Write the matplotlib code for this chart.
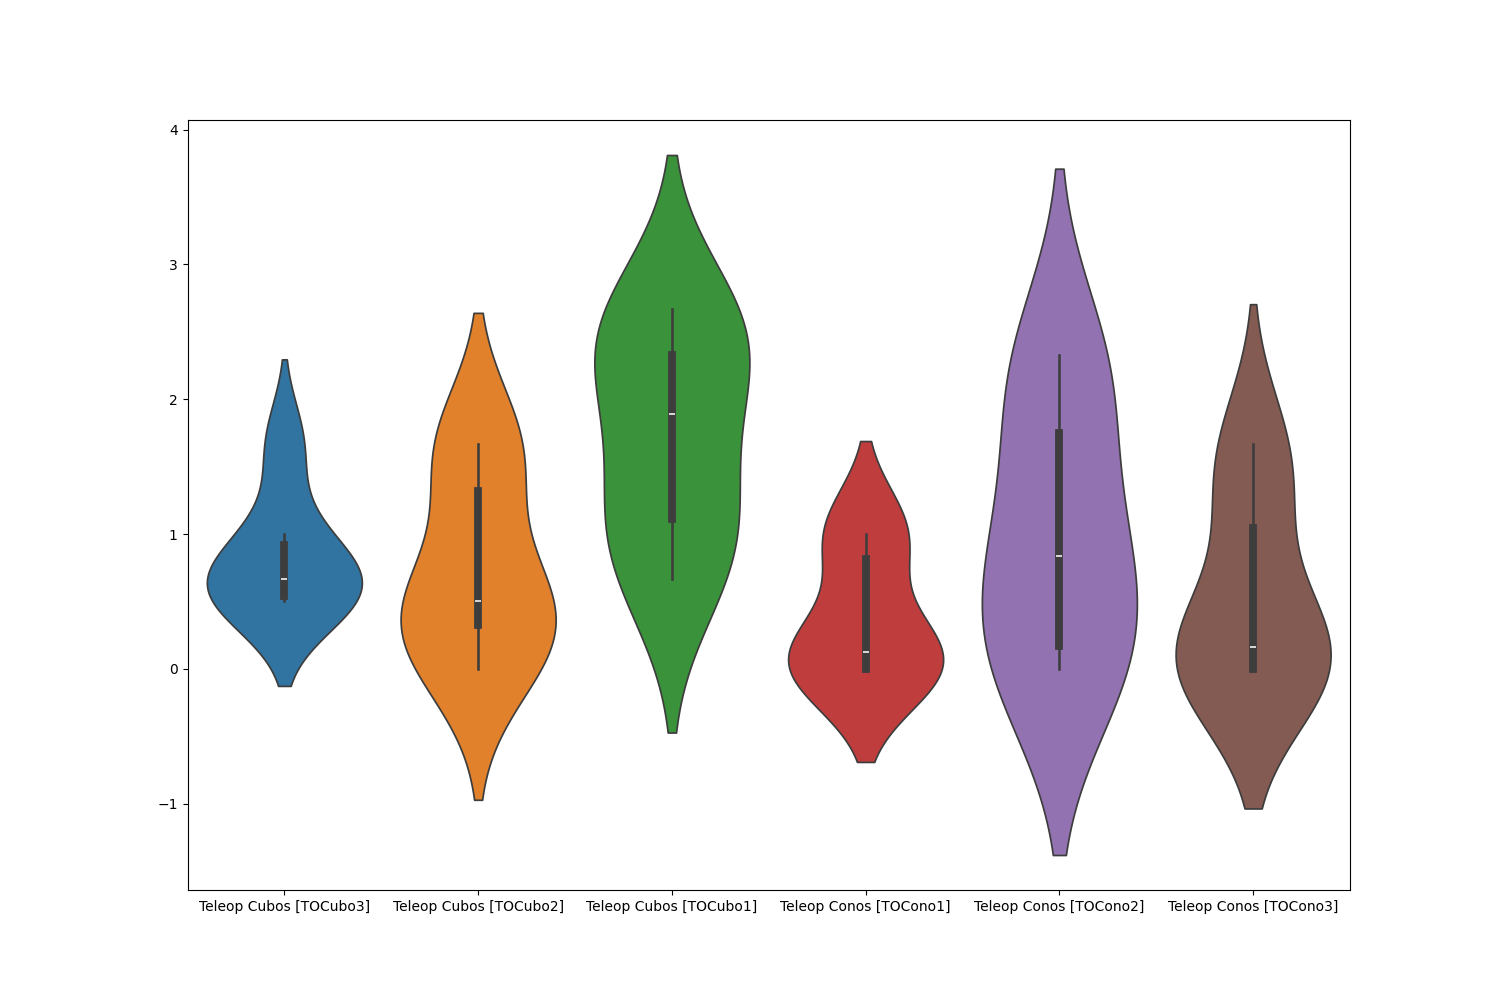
import numpy as np
import pandas as pd
import matplotlib
matplotlib.use("Agg")
import matplotlib.pyplot as plt
import seaborn as sns

# Columns shown on the x axis
labels = ["Teleop Cubos [TOCubo3]", "Teleop Cubos [TOCubo2]", "Teleop Cubos [TOCubo1]",
          "Teleop Conos [TOCono1]", "Teleop Conos [TOCono2]", "Teleop Conos [TOCono3]"]

# values per column (read from the box stats / violin extents)
tocubo3 = [0.5, 0.5, 0.67, 0.67, 1.0, 1.67]
tocubo2 = [0.0, 0.3, 0.4, 0.6, 1.56, 1.67]
tocubo1 = [0.67, 1.0, 1.45, 2.33, 2.33, 2.67]
tocono1 = [0.0, 0.0, 0.0, 0.25, 1.0, 1.0]
tocono2 = [0.0, 0.0, 0.67, 1.0, 2.0, 2.33]
tocono3 = [0.0, 0.0, 0.0, 0.33, 1.28, 1.67]

series = [tocubo3, tocubo2, tocubo1, tocono1, tocono2, tocono3]
df = pd.DataFrame({
    "col": np.repeat(labels, [len(s) for s in series]),
    "val": np.concatenate(series),
})

fig = plt.figure(figsize=(15, 10), dpi=100)
ax = fig.add_subplot(111)
sns.violinplot(data=df, x="col", y="val", hue="col", order=labels, hue_order=labels,
               palette="tab10", density_norm="width", legend=False, ax=ax)
ax.set_xlabel("")
ax.set_ylabel("")

plt.savefig("out.png")
